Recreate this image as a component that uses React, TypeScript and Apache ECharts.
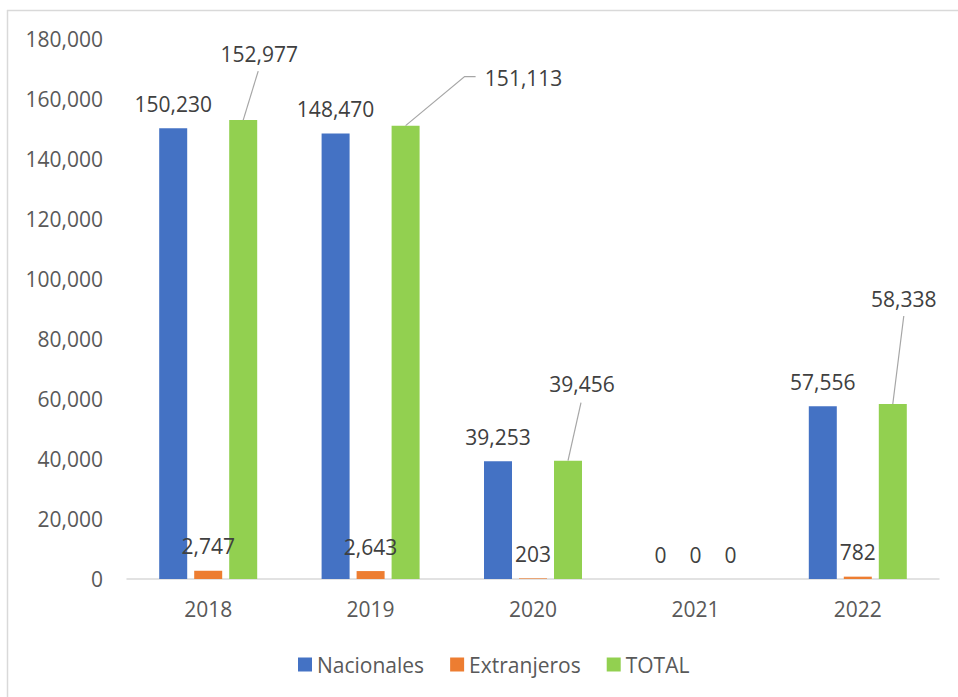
import React, { useEffect, useRef } from "react";
import * as echarts from "echarts";

const years = ["2018", "2019", "2020", "2021", "2022"];
const nacionales = [150230, 148470, 39253, 0, 57556];
const extranjeros = [2747, 2643, 203, 0, 782];
const total = [152977, 151113, 39456, 0, 58338];
const seriesNames = ["Nacionales", "Extranjeros", "TOTAL"];

// layout: pixel shifts for the TOTAL data labels (moved out, Excel-style)
const totalLabelShift: ([number, number] | null)[] = [
  [16, -42],
  [118, -23],
  [14, -52],
  null,
  [11, -80],
];
// layout: leader-line bend points, in pixels relative to the bar's top centre
const leaderPoints: ([number, number][] | null)[] = [
  [[15, -49]],
  [[59, -49], [70, -49]],
  [[13, -58]],
  null,
  [[11, -88]],
];
const BAR_W = 28;
const BAR_GAP_PX = 7;

const FONT = "'Open Sans', 'Noto Sans', sans-serif";

export default function App() {
  const ref = useRef<HTMLDivElement>(null);
  useEffect(() => {
    if (!ref.current) return;
    const chart = echarts.init(ref.current, undefined, { renderer: "svg" });
    const fmt = (v: number) => v.toLocaleString("en-US");
    const dataLabel = {
      show: true,
      position: "top" as const,
      distance: 14,
      fontSize: 21,
      fontFamily: FONT,
      color: "#404040",
      formatter: (p: any) => fmt(p.value),
    };
    const barGap = ((BAR_GAP_PX / BAR_W) * 100).toFixed(1) + "%";
    chart.setOption({
      animation: false,
      textStyle: { fontFamily: FONT },
      color: ["#4472C4", "#ED7D31", "#92D050"],
      graphic: [
        {
          type: "line",
          shape: { x1: 7.5, y1: 10, x2: 7.5, y2: 697 },
          style: { stroke: "#d9d9d9", lineWidth: 1.5 },
        },
        {
          type: "line",
          shape: { x1: 7, y1: 10.5, x2: 958, y2: 10.5 },
          style: { stroke: "#d9d9d9", lineWidth: 1.5 },
        },
      ],
      grid: { left: 127, right: 19, top: 39, bottom: 118 },
      legend: {
        left: 293,
        top: 649,
        itemWidth: 14,
        itemHeight: 14,
        itemGap: 26,
        icon: "rect",
        textStyle: { fontSize: 21, color: "#595959", fontFamily: FONT },
        data: seriesNames,
      },
      xAxis: {
        type: "category",
        data: years,
        axisLine: { lineStyle: { color: "#d9d9d9", width: 1.5 } },
        axisTick: { show: false },
        axisLabel: { fontSize: 21, color: "#595959", margin: 19, fontFamily: FONT },
      },
      yAxis: {
        type: "value",
        min: 0,
        max: 180000,
        interval: 20000,
        splitLine: { show: false },
        axisLine: { show: false },
        axisTick: { show: false },
        axisLabel: {
          fontSize: 21,
          color: "#595959",
          margin: 24,
          fontFamily: FONT,
          formatter: (v: number) => fmt(v),
        },
      },
      series: [
        {
          name: seriesNames[0],
          type: "bar",
          data: nacionales,
          barWidth: BAR_W,
          barGap,
          label: dataLabel,
        },
        {
          name: seriesNames[1],
          type: "bar",
          data: extranjeros,
          barWidth: BAR_W,
          barGap,
          label: dataLabel,
        },
        {
          name: seriesNames[2],
          type: "bar",
          data: total,
          barWidth: BAR_W,
          barGap,
          label: dataLabel,
          labelLayout: (p: any) => {
            const s = totalLabelShift[p.dataIndex];
            if (!s) return {};
            return { dx: s[0], dy: s[1] };
          },
        },
        {
          name: "leader",
          type: "custom",
          silent: true,
          z: 5,
          data: total.map((v, i) => [i, v]),
          encode: { x: 0, y: 1 },
          renderItem: (params: any, api: any) => {
            const pts = leaderPoints[params.dataIndex];
            if (!pts) return null;
            const c = api.coord([api.value(0), api.value(1)]);
            const x0 = c[0] + BAR_W + BAR_GAP_PX;
            const y0 = c[1];
            const points = [[x0, y0], ...pts.map(([dx, dy]) => [x0 + dx, y0 + dy])];
            return {
              type: "polyline",
              shape: { points },
              style: { stroke: "#a6a6a6", lineWidth: 1.2, fill: null },
            };
          },
        },
      ],
    });
    return () => chart.dispose();
  }, []);
  return (
    <div
      ref={ref}
      style={{ position: "fixed", left: 0, top: 0, width: 958, height: 697, background: "#fff" }}
    />
  );
}
